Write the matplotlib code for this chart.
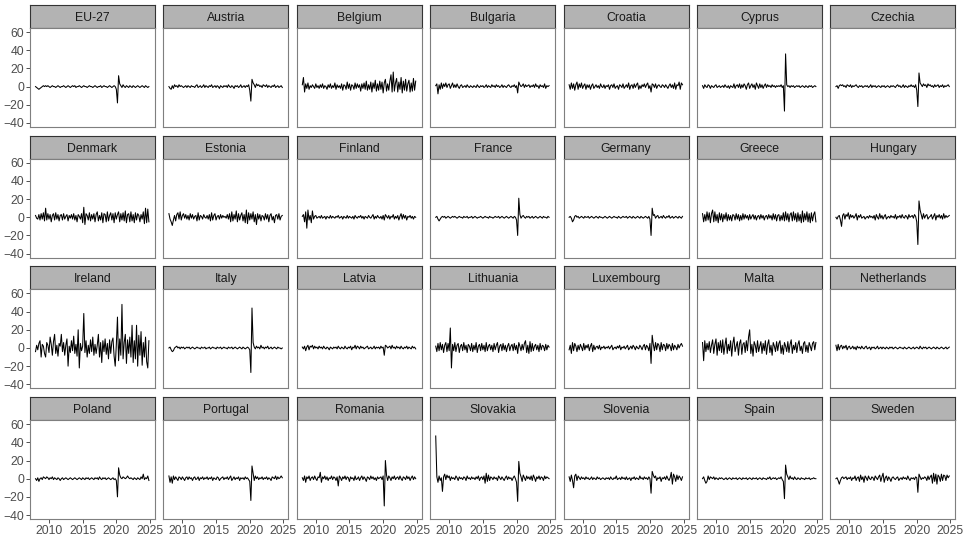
import numpy as np
import matplotlib.pyplot as plt

plt.rcParams["font.family"] = ["Liberation Sans", "DejaVu Sans"]

# Series sampled every two months, Jan 2008 to Nov 2024
start_year = 2008
step = 1 / 6

eu27 = [0, -1, -2, -3, -2, -1, 0, 1, 0, 1, 0, 1, 0, -1, 0, 1, 0,
        0, -1, 0, 1, 0, -1, 0, 0, 1, 0, -1, 0, 1, 0, -1, 0, 1,
        0, 1, -1, 0, 0, 1, 0, -1, 0, 1, 0, 0, -1, 0, 1, 0, 0,
        -1, 0, 1, 0, -1, 0, 0, 1, -1, 0, 1, 0, 0, -1, 0, 1, 0,
        -1, 0, 1, 0, -3, -18, 12, 3, 1, -1, 2, 0, -1, 1, 0, -1, 1,
        0, -1, 1, 0, -1, 0, 1, 0, -1, 0, 1, 0, -1, 1, 0, -1, 0]
austria = [0, -2, -3, 1, -2, 2, 0, 1, -1, 2, 0, 1, 0, -1, 0, 1, -1,
           1, 0, -1, 1, 0, 0, -1, 1, 2, -1, 0, 1, -1, 0, 2, -1, 1,
           0, -1, 1, 0, 2, -1, 0, 1, -1, 1, 0, -2, 1, 0, -1, 1, 0,
           1, -1, 2, 0, -1, 1, 0, -2, 1, 0, 1, -1, 0, 2, -1, 0, 1,
           -1, 1, 0, 2, -4, -16, 8, 4, 2, -1, 3, 1, 2, 0, 1, -1, 2,
           1, 0, 2, -1, 1, 0, -1, 1, 0, 2, -1, 0, 1, -1, 0, 1, -1]
belgium = [2, 10, -6, 3, -2, 4, -3, 1, -1, 2, 0, -2, 3, -1, 1, -2, 2,
           -1, 3, -2, 1, 0, -3, 2, -1, 3, -2, 1, -1, 4, -3, 2, -1, 1,
           -2, 3, -4, 2, 1, -3, 5, -2, 3, -4, 2, 1, -3, 4, -2, 3, -1,
           2, -5, 3, -2, 4, -3, 6, -4, 2, -3, 5, -6, 4, -2, 7, -5, 3,
           -4, 6, -3, 5, -7, 4, 8, -5, 3, -4, 6, 13, -6, 16, -5, 4, 9,
           -6, 5, -3, 10, -7, 6, -4, 8, -5, 3, 7, -6, 4, -5, 9, -4, 6]
bulgaria = [1, 3, -8, 2, -3, 4, -2, 3, 0, 4, -1, 2, 3, -2, 1, 4, -1,
            2, -1, 3, 0, -2, 1, 2, -1, 0, 1, -1, 2, 0, -1, 1, 0, -1,
            1, 0, -1, 2, 0, -1, 1, 0, 1, -1, 0, 2, -1, 1, 0, -1, 2,
            0, 1, -1, 2, 0, 1, -1, 0, 2, -1, 1, 0, -1, 1, 2, 0, -1,
            1, 0, 2, -1, 1, -7, 5, 2, 0, 1, 3, -1, 2, 0, 1, 2, -1,
            1, 0, 2, -1, 3, 0, 1, -2, 2, 0, 1, -1, 3, -2, 1, 0, 1]
croatia = [2, -3, 4, -2, 3, -4, 2, 5, -3, 3, -1, 4, -2, 1, 3, -3, 2,
           -1, 2, -3, 1, 3, -2, 0, 2, -1, 1, -2, 3, 0, -1, 2, -2, 1,
           0, 2, -3, 1, 2, -1, 3, -2, 0, 1, -3, 2, 1, -1, 3, -2, 0,
           2, -1, 4, -3, 1, 2, -2, 3, -1, 2, 4, -3, 1, -2, 2, 0, 3,
           -1, 2, 4, -2, 1, -6, 3, 2, -1, 3, -2, 1, 2, 0, -1, 2, 1,
           -1, 2, 0, -2, 1, 3, -1, 2, -2, 4, -3, 2, 1, 5, -3, 4, 2]
cyprus = [1, -2, 2, 0, -1, 2, 1, -2, 1, 0, -1, 1, 2, -1, 0, 1, -1,
          0, 1, -1, 2, 0, -1, 1, -2, 1, 0, -1, 3, -2, 1, 2, -1, 3,
          -2, 2, -1, 3, 1, -3, 2, 4, -2, 1, 3, -1, 2, -3, 4, 1, -2,
          3, -1, 2, -2, 1, 3, -1, 2, 0, 1, -1, 2, 0, 1, -1, 1, 0,
          1, 0, 2, -1, 1, -27, 36, 2, 0, 1, -1, 1, 0, 1, -1, 0, 1,
          0, 1, -1, 0, 1, 0, -1, 1, 0, -1, 1, 0, 1, -1, 0, 1, 0]
czechia = [0, 1, -2, 1, 2, 1, 2, 0, 1, -1, 2, 1, 0, 2, -1, 1, 0,
           1, 2, 0, -1, 1, 0, 1, -1, 0, 1, 0, 1, -1, 0, 2, -1, 1,
           0, 1, -1, 0, 1, 0, -1, 1, 0, 1, -1, 0, 1, 0, -1, 1, 0,
           1, 0, -1, 1, 2, 0, 1, -1, 0, 2, -1, 1, 0, -1, 1, 0, 2,
           0, 1, -1, 2, -4, -22, 15, 4, 2, 0, 3, 1, 2, -1, 3, 1, 2,
           0, 1, -1, 2, 0, 1, 2, -1, 1, 0, 2, -1, 1, 0, 1, 2, 0]
denmark = [2, -1, -2, 3, -3, 4, -2, 5, -4, 10, -3, 4, -2, 3, -5, 2, 4,
           -3, 5, -2, 3, -4, 2, 3, -3, 4, -2, 1, 3, -4, 2, -1, 3, -2,
           4, -3, 2, -5, 3, 1, -2, 4, -6, 11, -8, 4, 2, -3, 5, -4, 3,
           -2, 4, -5, 3, 6, -4, 2, -3, 5, -6, 4, 3, -5, 6, -4, 2, 5,
           -3, 4, -6, 5, -2, 3, 6, -5, 4, -3, 5, -4, 7, -6, 3, 4, -5,
           6, -4, 3, -6, 5, -3, 4, 2, -5, 3, -2, 6, -7, 10, -6, 9, -5]
estonia = [4, -2, -5, -9, -3, 2, -4, 3, 5, -2, 6, -3, 2, 4, -1, 3, -2,
           2, -3, 4, -1, 3, -2, 1, 2, -4, 5, -3, 2, 1, -2, 3, 0, -1,
           2, -2, 3, -4, 5, -3, 2, 4, -3, 1, 2, -2, 3, -1, 2, 0, 1,
           -1, 3, -2, 4, -5, 6, -4, 3, -2, 7, -5, 4, -3, 2, 5, -4, 3,
           -6, 8, -7, 5, -3, 4, -2, 6, -5, 3, -8, 4, -2, 3, -4, 2, 1,
           -3, 4, -2, 3, -5, 2, 4, -3, 1, -6, 2, 3, -2, 4, -3, 1, 2]
finland = [1, 3, -5, 6, -12, 8, -3, 2, -6, 7, -2, 1, 2, -1, 0, 1, -1,
           2, -1, 0, 1, -2, 1, 0, -1, 2, -1, 1, 0, -1, 1, 0, 2, -1,
           0, 1, -2, 1, 0, -1, 2, -1, 1, 0, -1, 1, -2, 2, 0, -1, 1,
           0, 2, -1, 1, -2, 1, 0, -1, 2, 0, -1, 1, 3, -2, 1, -1, 2,
           0, -1, 1, -2, 2, -3, 3, 1, -1, 2, -2, 1, 0, 3, -2, 1, -1,
           2, -3, 1, 4, -2, 3, -1, 2, -3, 1, 0, 2, -1, 1, -2, 1, 0]
france = [0, 1, -2, -4, -2, 0, 1, 0, 1, -1, 0, 1, 0, -1, 0, 1, 0,
          1, 0, -1, 0, 1, 0, 0, -1, 1, 0, 0, 1, -1, 0, 0, 1, -1,
          0, 1, 0, -1, 0, 0, 1, 0, -1, 0, 1, 0, 0, -1, 1, 0, 0,
          -1, 0, 1, 0, 0, 1, -1, 0, 1, 0, -1, 0, 1, 0, -1, 0, 1,
          0, -1, 1, 0, -3, -20, 21, 3, -1, 1, 2, 0, -1, 1, 0, 1, -1,
          0, 1, -1, 0, 1, 0, -1, 0, 1, 0, -1, 1, 0, 0, -1, 1, 0]
germany = [0, 1, -1, -5, -3, 1, 2, 0, 1, -1, 0, 1, 0, -1, 1, 0, 0,
           1, -1, 0, 1, 0, -1, 0, 1, 0, -1, 1, 0, 0, -1, 0, 1, 0,
           -1, 0, 1, 0, -1, 0, 1, 0, 0, -1, 1, 0, -1, 0, 1, 0, 0,
           1, -1, 0, 1, 0, -1, 1, 0, -1, 0, 1, 0, -1, 1, 0, -1, 0,
           1, 0, -1, 1, -2, -20, 10, 2, 3, -1, 1, 2, -1, 0, 1, -1, 2,
           0, -1, 1, 0, 2, -1, 0, 1, -1, 0, 1, 0, -1, 1, 0, -1, 1]
greece = [4, -5, 3, -4, 6, -3, 5, -6, 4, 8, -5, 6, -4, 3, -6, 5, -3,
          4, -5, 3, -2, 5, -4, 3, -3, 2, -4, 3, 2, -3, 4, -2, 3, -4,
          2, -3, 4, -2, 3, -1, 2, -3, 3, -2, 1, 3, -2, 2, -3, 1, 2,
          -2, 3, -1, 2, -3, 1, 2, -2, 3, -1, 2, -3, 4, -2, 3, -4, 2,
          3, -4, 2, -3, 5, -4, 6, -3, 4, -5, 3, 5, -4, 6, -3, 4, -5,
          5, -4, 3, -6, 7, -5, 4, -3, 6, -5, 4, -6, 5, -4, 3, 6, -5]
hungary = [0, -2, 1, 2, -3, -10, 2, 4, -2, 3, 1, 5, -2, 3, 0, 2, -1,
           1, 4, -3, 2, 0, 3, -1, 0, 1, -2, 0, 1, -1, 2, 0, 1, -1,
           2, -3, 3, 0, -2, 4, -1, 2, -2, 1, 3, -2, 0, 1, -1, 2, 0,
           1, -1, 3, -2, 1, 0, 2, -1, 3, 0, -1, 2, 1, -2, 3, 0, 1,
           2, -1, 3, 1, -5, -30, 18, 8, 3, -2, 4, -1, 2, 3, -2, 0, 1,
           3, -2, 1, 4, -3, 2, 0, 3, -1, 2, -2, 4, -1, 2, 0, 1, 2]
ireland = [-4, 3, -2, 5, 8, -10, 4, 2, -6, -10, 6, 3, -5, 12, 4, -8, 7,
           15, -6, 3, -9, 5, 2, 15, -4, 6, -8, 3, 10, -20, 2, -5, 8, -3,
           13, -6, 4, -9, 20, -22, 5, -3, 2, 38, -5, 8, -10, 3, -6, 9, -4,
           12, -8, 4, -6, 3, 15, -10, 6, -16, 8, -4, 10, -7, 5, -12, 9, -6,
           7, 11, -9, -20, 4, 34, -14, 10, -8, 48, -12, 6, 15, -17, 9, -6, 12,
           -10, 25, -16, 8, -12, 25, -20, 14, -8, 18, -19, 6, -10, 12, -15, -22, 8]
italy = [0, 1, -2, -4, -3, 0, 1, 2, 0, 1, -1, 1, 0, 1, -1, 0, 1,
         0, 1, -1, 0, 1, 0, -1, 0, 1, 0, 0, -1, 1, 0, 0, 1, -1,
         0, 0, 1, -1, 0, 1, 0, 0, -1, 1, 0, 0, 1, -1, 0, 1, 0,
         0, -1, 1, 0, 0, 1, -1, 0, 1, 0, -1, 0, 1, 0, -1, 1, 0,
         -1, 0, 1, 0, -2, -27, 44, 6, 1, -1, 2, 0, 1, -1, 3, 0, 1,
         -1, 1, 0, 2, -1, 0, 1, -1, 0, 1, 0, -1, 1, 0, 0, -1, 0]
latvia = [1, -1, 2, -3, 1, 3, -2, 2, 1, 3, -1, 2, 0, 1, -1, 2, 0,
          1, -1, 2, 0, -1, 1, 0, -2, 1, 0, -1, 1, 0, 1, -1, 2, 0,
          -1, 1, 0, -1, 2, 0, -1, 1, 0, 2, -2, 1, 0, 3, -1, 2, 1,
          -1, 2, 0, 1, -1, 0, 1, 2, -1, 0, 1, -1, 0, 2, -1, 1, 0,
          1, -1, 2, 0, 1, -8, 3, 2, 0, 1, 2, -1, 3, 0, 1, -1, 2,
          0, 1, -1, 2, 0, -1, 1, 0, 2, -1, 1, 0, -1, 2, 0, 1, -1]
lithuania = [2, -4, 5, -3, 6, -2, 4, -5, 3, 6, -4, 5, -3, 22, -22, 4, -3,
             6, -4, 3, 5, -5, 2, 4, -3, 6, -2, 3, -5, 4, 2, -3, 5, -4,
             3, -2, 6, -5, 2, 4, -3, 5, -2, 3, -4, 6, -3, 2, 4, -2, 3,
             -4, 5, -2, 3, 6, -5, 2, 4, -3, 5, -2, 3, -4, 2, 5, -3, 2,
             4, -3, 5, -2, 3, -6, 6, 2, -3, 4, -2, 5, 8, -5, 3, -6, 7,
             -4, 5, -3, 2, 4, -2, 3, -4, 5, -2, 3, 2, -3, 4, -2, 3, 1]
luxembourg = [-2, 3, -6, 6, -3, 5, 2, -4, 3, -2, 4, 1, -3, 5, -2, 3, 0,
              4, -3, 2, 5, -4, 3, -2, 1, 2, -1, 3, -2, 1, 0, 2, -1, 1,
              0, 2, -1, 1, 3, -2, 0, 1, -1, 2, 0, 3, -2, 1, 0, 2, -1,
              1, 3, -2, 0, 2, -1, 3, 1, -2, 2, 0, -1, 3, 1, -2, 2, 4,
              -2, 3, 1, -3, 5, -17, 14, 4, -3, 6, -2, 5, 3, -4, 6, -2, 4,
              3, -3, 5, -1, 4, 2, -3, 5, -2, 3, 1, -2, 4, 0, 3, 5, 2]
malta = [6, -14, 8, -4, 5, -2, 7, -5, 3, 9, -6, 4, 10, -8, 6, -3, 8,
         -5, 9, -7, 3, 11, -6, 4, -3, 8, -9, 5, 12, -4, 2, 7, -8, 5,
         9, -7, 4, 6, -5, 8, -3, 12, 20, -6, 4, -9, 7, 3, -5, 8, -4,
         2, 7, -6, 5, -3, 8, -7, 4, 9, -5, 3, -8, 6, 2, -4, 7, -3,
         5, 8, -6, 3, -7, 6, 2, -4, 7, -5, 4, 9, -6, 3, -2, 6, -5,
         4, 8, -3, 2, -6, 5, 7, -4, 3, -5, 6, 2, -3, 5, 7, -2, 6]
netherlands = [3, -3, 4, -2, 2, 3, -1, 2, 0, 3, -2, 1, 2, -1, 0, 2, -1,
               1, -2, 2, 0, 1, -1, 2, 0, -1, 1, 2, -1, 0, 1, -2, 1, 0,
               1, -1, 0, 2, -1, 0, 1, -1, 1, 0, -1, 1, 0, -1, 1, 0, 1,
               -1, 0, 1, 0, -1, 0, 1, 0, 0, -1, 1, 0, -1, 0, 1, 0, -1,
               0, 1, -1, 0, 1, 0, -1, 2, 0, -1, 1, 0, 1, -1, 0, 1, 0,
               -1, 0, 1, 0, -1, 1, 0, -1, 0, 1, 0, -1, 0, 1, -1, 0, 1]
poland = [0, -2, 1, -3, 0, 1, -1, 2, 1, 0, 2, 1, -1, 1, 0, 2, -1,
          1, 0, -1, 1, 0, -2, 0, 1, -1, 0, 1, 0, -1, 0, 1, 0, -1,
          0, 1, 0, -1, 0, 1, 0, -1, 1, 0, -1, 1, 0, 1, -1, 0, 1,
          0, -1, 1, 0, 1, -1, 2, 0, -1, 1, 0, 1, -1, 0, 1, 0, -1,
          0, 1, -1, 0, -2, -20, 12, 4, 1, 0, 2, 1, 0, 1, 3, 1, 0,
          1, 0, -1, 1, 0, -1, 1, 0, -1, 2, 0, 5, -1, 1, 0, 3, -2]
portugal = [3, -4, 2, -5, 3, -1, 2, 0, -2, 2, 1, -1, 2, 0, -2, 1, 2,
            -1, 2, 0, 1, -2, 1, 2, -1, 0, 2, -2, 1, 0, 2, -1, 1, 0,
            2, -1, 1, 0, 2, -2, 1, 0, -1, 2, 1, -2, 0, 1, 2, -1, 1,
            0, 2, -1, 1, 3, -2, 0, 2, -1, 1, 0, 2, -2, 1, 0, 1, -1,
            2, 0, 1, -1, -3, -24, 14, 6, -2, 3, 0, 2, -1, 1, 0, 2, -1,
            1, 0, 2, -1, 1, 0, -2, 2, 1, 0, 3, -1, 2, 0, 1, 3, 1]
romania = [1, -2, 3, -4, 2, 0, 3, -2, 1, 2, -1, 3, 0, -2, 2, 1, 7,
           -4, 2, 0, 3, -1, 2, -2, 1, 0, 3, -1, 2, 1, -2, 2, -8, 3,
           1, -2, 2, 0, 3, -1, 2, 1, -3, 2, 0, 1, -2, 3, -1, 0, 2,
           -2, 1, 3, -1, 2, 0, -3, 2, 1, -1, 3, 0, 2, -1, 1, -2, 2,
           0, 1, 2, -1, 3, -30, 20, 4, -2, 3, 1, -2, 2, 0, 3, -1, 1,
           2, -1, 3, 0, -2, 2, 1, -1, 3, 0, 2, -2, 1, 3, -1, 2, 0]
slovakia = [47, 2, -4, 3, -2, 1, -14, 2, 5, -1, 4, 1, 3, -2, 2, 0, 1,
            -1, 3, 1, -2, 2, 0, 1, -1, 2, 1, -2, 3, 0, 1, -1, 2, 0,
            1, -1, 2, 0, 3, -2, 1, 2, -1, 3, -5, 6, -3, 4, -2, 2, 1,
            -1, 2, 0, 1, -2, 3, 1, -1, 2, 0, -2, 1, 3, -1, 2, 0, 1,
            -2, 1, 3, 0, -4, -25, 19, 6, 2, -3, 4, 1, -2, 3, 0, 2, -1,
            3, -2, 4, 1, -3, 2, 0, 3, -1, 2, 1, -2, 3, 0, 2, 1, 0]
slovenia = [2, -3, 4, -2, -10, 3, 5, -2, 3, 1, -1, 2, 0, 1, -1, 2, 0,
            1, -1, 0, 2, -1, 1, 0, -1, 2, 0, 1, -1, 0, 1, 0, -1, 1,
            0, 1, -1, 2, 0, -1, 1, 0, 3, -1, 0, 1, -1, 2, 0, 1, -1,
            2, -1, 0, 1, -2, 1, 0, 2, -1, 1, 0, -1, 3, 0, 1, -1, 2,
            0, 1, -1, 2, 0, -16, 8, 4, 1, 3, -2, 1, 0, 2, -3, 1, 0,
            2, -1, 3, 0, -2, 1, 7, -6, 5, 2, -3, 4, -1, 3, 1, -2, 2]
spain = [0, 2, -2, -5, -3, 3, -1, 2, 1, 0, 2, -1, 1, 0, -1, 1, 0,
         1, 0, -1, 0, 1, -1, 0, 1, 0, -1, 1, 0, 0, 1, -1, 0, 1,
         0, -1, 1, 0, 0, 1, -1, 0, 1, 0, -1, 1, 0, 0, 1, -1, 0,
         1, 0, -1, 1, 0, 0, -1, 1, 0, 2, -1, 0, 1, 0, 1, -1, 0,
         1, 0, 2, -1, -3, -22, 15, 5, 2, -1, 3, 0, 1, -1, 2, 0, -1,
         1, 0, -1, 1, 0, 0, -1, 1, 0, 0, 1, -1, 0, 0, 1, 0, 0]
sweden = [0, 1, -2, -6, -2, 1, 2, 0, 1, 2, -1, 1, 0, 2, -2, 1, 0,
          3, -2, 1, 2, -3, 4, -1, 2, -4, 3, 1, -2, 3, 0, -1, 2, 1,
          -2, 3, 1, -1, 2, 4, -3, 2, 6, -4, 1, 3, -2, 2, 0, -3, 1,
          2, 0, -1, 1, 2, -2, 0, 1, -1, 2, 0, 1, -1, 3, 0, -2, 1,
          0, 1, -1, 2, 1, -15, 5, 2, -1, 1, 0, 2, 1, -2, 3, -1, 2,
          4, -5, 6, -3, 5, -6, 4, 2, -3, 5, -2, 4, 3, -2, 4, 1, 3]

countries = ["EU-27", "Austria", "Belgium", "Bulgaria", "Croatia", "Cyprus", "Czechia",
             "Denmark", "Estonia", "Finland", "France", "Germany", "Greece", "Hungary",
             "Ireland", "Italy", "Latvia", "Lithuania", "Luxembourg", "Malta", "Netherlands",
             "Poland", "Portugal", "Romania", "Slovakia", "Slovenia", "Spain", "Sweden"]
series = [eu27, austria, belgium, bulgaria, croatia, cyprus, czechia,
          denmark, estonia, finland, france, germany, greece, hungary,
          ireland, italy, latvia, lithuania, luxembourg, malta, netherlands,
          poland, portugal, romania, slovakia, slovenia, spain, sweden]

x_ticks = [2010, 2015, 2020, 2025]
y_ticks = [-40, -20, 0, 20, 40, 60]

W, H = 970, 538
fig = plt.figure(figsize=(W / 100, H / 100), dpi=100)

ncol = 7
col_left = 30
col_step = 133.4
panel_w = 125
row_top = 5
row_step = 130.7
strip_h = 23
panel_h = 99

for i, (name, vals) in enumerate(zip(countries, series)):
    r, c = divmod(i, ncol)
    left = col_left + c * col_step
    top = row_top + r * row_step

    # strip
    sax = fig.add_axes([left / W, 1 - (top + strip_h) / H, panel_w / W, strip_h / H])
    sax.set_facecolor("#b3b3b3")
    sax.set_xticks([])
    sax.set_yticks([])
    for sp in sax.spines.values():
        sp.set_color("#333333")
        sp.set_linewidth(0.8)
    sax.text(0.5, 0.44, name, ha="center", va="center", fontsize=8.8, color="#1a1a1a",
             transform=sax.transAxes)

    # panel
    ax = fig.add_axes([left / W, 1 - (top + strip_h + panel_h) / H, panel_w / W, panel_h / H])
    x = start_year + np.arange(len(vals)) * step
    ax.plot(x, vals, color="black", linewidth=0.75)
    ax.set_xlim(2007.18, 2025.74)
    ax.set_ylim(-44.5, 64.5)
    ax.set_xticks(x_ticks)
    ax.set_yticks(y_ticks)
    for sp in ax.spines.values():
        sp.set_color("#7f7f7f")
        sp.set_linewidth(0.8)
    ax.tick_params(length=2.8, width=0.6, color="#333333", labelsize=8.8,
                   labelcolor="#4d4d4d", pad=1.5)
    if c != 0:
        ax.tick_params(axis="y", left=False, labelleft=False)
    if r != 3:
        ax.tick_params(axis="x", bottom=False, labelbottom=False)

fig.savefig("out.png", dpi=100)
